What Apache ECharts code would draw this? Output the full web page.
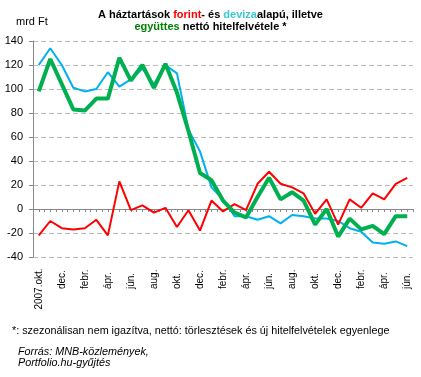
<!DOCTYPE html>
<html>
<head>
<meta charset="utf-8">
<script src="https://cdn.jsdelivr.net/npm/echarts@6/dist/echarts.min.js"></script>
<style>
  html, body { margin: 0; padding: 0; background: #fff; }
  #chart { width: 421px; height: 377px; }
</style>
</head>
<body>
<div id="chart"></div>
<script>
// havi adatok, 2007 okt. - 2010 jún. (mrd Ft)
const months = [
  '2007.okt.', 'nov.', 'dec.', 'jan.', 'febr.', 'márc.', 'ápr.', 'máj.', 'jún.', 'júl.', 'aug.', 'szept.',
  'okt.', 'nov.', 'dec.', 'jan.', 'febr.', 'márc.', 'ápr.', 'máj.', 'jún.', 'júl.', 'aug.', 'szept.',
  'okt.', 'nov.', 'dec.', 'jan.', 'febr.', 'márc.', 'ápr.', 'máj.', 'jún.'
];
const forint = [
  -22, -10, -16, -17, -16, -9, -22, 23, -1, 3, -3, 1,
  -15, -1, -18, 7, -2, 4, -1, 21, 31, 21, 18, 13,
  -4, 8, -13, 8, 1, 13, 8, 21, 26
];
const deviza = [
  120, 134, 120, 101, 98, 100, 114, 102, 108, 117, 104, 120,
  113, 66, 48, 18, 8, -6, -6, -9, -6, -12, -5, -6,
  -8, -8, -10, -16, -19, -28, -29, -27, -31
];
const egyutt = [
  98, 125, 104, 83, 82, 92, 92, 126, 107, 120, 101, 121,
  97, 65, 30, 24, 7, -3, -7, 10, 26, 8, 14, 7,
  -13, 0, -23, -8, -17, -14, -21, -6, -6
];
const yTicks = { min: -40, max: 140, step: 20 };

// az első felirat középre igazítva, a többi alulról indul (mint az eredetin)
const monthItems = months.map((m, i) => i === 0 ? { value: m, textStyle: { align: 'center' } } : m);

// fél hónapos osztásjelekhez (csak a tengelyvonalon)
const halfTicks = new Array(months.length * 2).fill('');

const chart = echarts.init(document.getElementById('chart'));
const font = '"Liberation Sans", Arial, sans-serif';

const option = {
  animation: false,
  backgroundColor: '#fff',
  textStyle: { fontFamily: font },
  title: {
    left: 'center',
    top: 4,
    text: 'A háztartások {r|forint}- és {c|deviza}alapú, illetve\n{g|együttes} nettó hitelfelvétele *',
    textStyle: {
      fontFamily: font, fontSize: 11, fontWeight: 'bold', color: '#000', lineHeight: 12,
      rich: {
        r: { color: '#ff0000', fontWeight: 'bold', fontSize: 11, fontFamily: font },
        c: { color: '#3cc8d0', fontWeight: 'bold', fontSize: 11, fontFamily: font },
        g: { color: '#008000', fontWeight: 'bold', fontSize: 11, fontFamily: font }
      }
    }
  },
  grid: { left: 33, right: 8, top: 41, bottom: 120, containLabel: false },
  xAxis: [
    {
      type: 'category',
      data: monthItems,
      boundaryGap: true,
      position: 'bottom',
      axisLine: { show: false, onZero: false },
      axisTick: { show: false },
      splitLine: { show: false },
      axisLabel: {
        interval: 1, rotate: 90, margin: 32, align: 'left',
        fontSize: 10, color: '#000', fontFamily: font
      }
    },
    {
      type: 'category',
      data: halfTicks,
      boundaryGap: true,
      position: 'bottom',
      axisLine: { show: true, onZero: true, lineStyle: { color: '#888', width: 1 } },
      axisTick: { show: true, interval: 0, length: 3, lineStyle: { color: '#888' } },
      axisLabel: { show: false },
      splitLine: { show: false }
    }
  ],
  yAxis: {
    type: 'value',
    min: yTicks.min, max: yTicks.max, interval: yTicks.step,
    axisLine: { show: true, lineStyle: { color: '#888', width: 1 } },
    axisTick: { show: true, length: 4, lineStyle: { color: '#888' } },
    axisLabel: { fontSize: 11, color: '#000', margin: 10, fontFamily: font },
    splitLine: { show: true, lineStyle: { color: '#bbb', type: [5, 3], width: 1 } }
  },
  series: [
    {
      name: 'deviza', type: 'line', data: deviza, symbol: 'none',
      lineStyle: { color: '#00b0f0', width: 2 }, z: 2
    },
    {
      name: 'forint', type: 'line', data: forint, symbol: 'none',
      lineStyle: { color: '#ff0000', width: 2 }, z: 3
    },
    {
      name: 'együttes', type: 'line', data: egyutt, symbol: 'none',
      lineStyle: { color: '#00b050', width: 4 }, z: 4
    }
  ],
  graphic: [
    {
      type: 'text', left: 16, top: 16,
      style: { text: 'mrd Ft', fontSize: 11, fill: '#000', fontFamily: font }
    },
    {
      type: 'text', left: 12, top: 326,
      style: {
        text: '*: szezonálisan nem igazítva, nettó: törlesztések és új hitelfelvételek egyenlege',
        fontSize: 10.8, fill: '#000', fontFamily: font
      }
    },
    {
      type: 'text', left: 18, top: 346,
      style: {
        text: 'Forrás: MNB-közlemények,\nPortfolio.hu-gyűjtés',
        fontSize: 10.8, fontStyle: 'italic', fill: '#000', lineHeight: 11.5, fontFamily: font
      }
    }
  ]
};

chart.setOption(option);
</script>
</body>
</html>
